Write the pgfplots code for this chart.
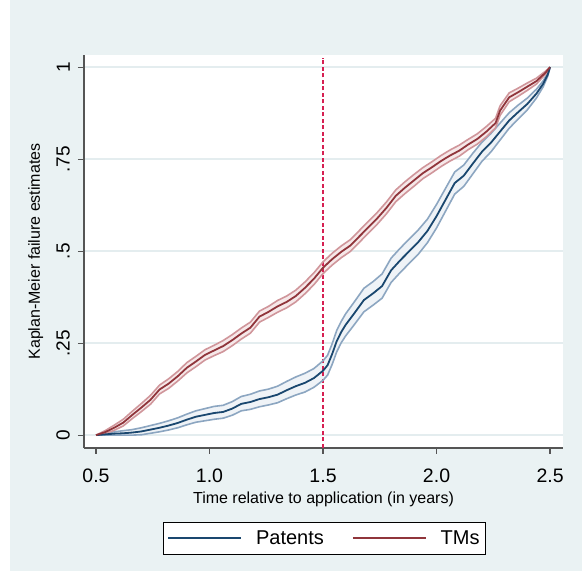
\documentclass[border=0pt]{standalone}
\usepackage{fontspec}
\setmainfont{Liberation Sans}
\usepackage{pgfplots}
\pgfplotsset{compat=1.18}
\usepackage{pgfplotstable}
\usepgfplotslibrary{fillbetween}

\definecolor{bgc}{RGB}{234,242,243}
\definecolor{gridc}{RGB}{228,237,239}
\definecolor{patc}{RGB}{26,71,111}
\definecolor{patci}{RGB}{140,166,193}
\definecolor{patfill}{RGB}{239,243,247}
\definecolor{tmc}{RGB}{144,53,59}
\definecolor{tmci}{RGB}{208,150,155}
\definecolor{tmfill}{RGB}{246,232,233}
\definecolor{vlinec}{RGB}{214,32,82}
\definecolor{axc}{RGB}{85,85,85}

\pgfplotsset{
  layers/mylayers/.define layer set={
    bgfill,axis background,axis grid,axis ticks,axis lines,axis tick labels,pre main,main,axis descriptions,axis foreground
  }{
    grid style={/pgfplots/on layer=axis grid},
    tick style={/pgfplots/on layer=axis ticks},
    axis line style={/pgfplots/on layer=axis lines},
    label style={/pgfplots/on layer=axis descriptions},
    legend style={/pgfplots/on layer=axis descriptions},
    title style={/pgfplots/on layer=axis descriptions},
    colorbar style={/pgfplots/on layer=axis descriptions},
    ticklabel style={/pgfplots/on layer=axis tick labels},
    axis background@ style={/pgfplots/on layer=axis background},
  },
}

\pgfplotstableread{
x est lo hi
0.50 0.000 0.000 0.000
0.54 0.002 0.000 0.005
0.58 0.004 0.000 0.009
0.62 0.005 0.000 0.012
0.66 0.007 0.000 0.015
0.70 0.010 0.001 0.020
0.74 0.015 0.005 0.026
0.78 0.020 0.009 0.032
0.82 0.026 0.014 0.039
0.86 0.033 0.020 0.047
0.90 0.042 0.028 0.057
0.94 0.050 0.035 0.066
0.98 0.055 0.039 0.072
1.02 0.060 0.043 0.078
1.06 0.063 0.046 0.081
1.10 0.072 0.054 0.091
1.14 0.085 0.066 0.105
1.18 0.090 0.070 0.111
1.22 0.098 0.077 0.120
1.26 0.103 0.082 0.125
1.30 0.110 0.088 0.133
1.34 0.122 0.099 0.146
1.38 0.133 0.109 0.158
1.42 0.142 0.117 0.168
1.46 0.155 0.130 0.181
1.50 0.175 0.149 0.202
1.52 0.190 0.163 0.217
1.54 0.220 0.192 0.248
1.56 0.255 0.226 0.284
1.58 0.280 0.251 0.309
1.60 0.300 0.270 0.330
1.64 0.333 0.302 0.364
1.68 0.367 0.335 0.399
1.72 0.385 0.353 0.417
1.76 0.405 0.372 0.438
1.80 0.448 0.415 0.481
1.84 0.475 0.442 0.508
1.88 0.500 0.467 0.533
1.92 0.525 0.492 0.558
1.96 0.555 0.523 0.587
2.00 0.595 0.563 0.627
2.04 0.640 0.609 0.671
2.08 0.685 0.655 0.715
2.12 0.705 0.676 0.734
2.16 0.738 0.710 0.766
2.20 0.770 0.744 0.796
2.24 0.795 0.770 0.820
2.28 0.825 0.802 0.848
2.32 0.855 0.834 0.876
2.36 0.878 0.859 0.897
2.40 0.900 0.884 0.916
2.44 0.928 0.916 0.940
2.47 0.955 0.947 0.963
2.49 0.980 0.976 0.984
2.50 1.000 1.000 1.000
}\patents

\pgfplotstableread{
x est lo hi
0.50 0.000 0.000 0.000
0.54 0.008 0.004 0.012
0.58 0.020 0.013 0.027
0.62 0.034 0.025 0.043
0.66 0.055 0.045 0.065
0.70 0.075 0.064 0.086
0.74 0.096 0.084 0.108
0.78 0.124 0.112 0.136
0.82 0.140 0.127 0.153
0.86 0.160 0.147 0.173
0.90 0.183 0.169 0.197
0.94 0.200 0.186 0.214
0.98 0.218 0.204 0.232
1.02 0.230 0.216 0.244
1.06 0.242 0.227 0.257
1.10 0.258 0.243 0.273
1.14 0.276 0.261 0.291
1.18 0.292 0.277 0.307
1.22 0.322 0.307 0.337
1.26 0.335 0.320 0.350
1.30 0.350 0.334 0.366
1.34 0.362 0.346 0.378
1.38 0.378 0.362 0.394
1.42 0.400 0.384 0.416
1.46 0.425 0.409 0.441
1.50 0.455 0.439 0.471
1.54 0.478 0.462 0.494
1.58 0.498 0.482 0.514
1.62 0.515 0.499 0.531
1.66 0.540 0.524 0.556
1.70 0.565 0.549 0.581
1.74 0.590 0.574 0.606
1.78 0.618 0.602 0.634
1.82 0.650 0.634 0.666
1.86 0.672 0.656 0.688
1.90 0.692 0.676 0.708
1.94 0.712 0.697 0.727
1.98 0.728 0.713 0.743
2.02 0.745 0.730 0.760
2.06 0.760 0.745 0.775
2.10 0.773 0.758 0.788
2.14 0.790 0.776 0.804
2.18 0.805 0.791 0.819
2.22 0.825 0.811 0.839
2.26 0.848 0.835 0.861
2.28 0.882 0.869 0.895
2.32 0.918 0.906 0.930
2.36 0.932 0.921 0.943
2.40 0.947 0.937 0.957
2.44 0.962 0.954 0.970
2.48 0.985 0.981 0.989
2.50 1.000 1.000 1.000
}\tms

\begin{document}
\begin{tikzpicture}
\path (0pt,0pt) rectangle (582pt,571pt);
\begin{axis}[
  at={(84pt,123pt)}, anchor=south west,
  width=479pt, height=393pt, scale only axis,
  set layers=mylayers, clip=false,
  xmin=0.447, xmax=2.557, ymin=-0.035, ymax=1.033,
  axis x line*=bottom, axis y line*=left,
  axis line style={-, draw=axc, line width=1.3pt},
  axis background/.style={fill=white},
  tick align=outside, major tick length=6pt,
  tick style={draw=axc, line width=1.2pt},
  xtick={0.5,1,1.5,2,2.5}, xticklabels={0.5,1.0,1.5,2.0,2.5},
  ytick={0,0.25,0.5,0.75,1}, yticklabels={0,.25,.5,.75,1},
  ymajorgrids, grid style={draw=gridc, line width=1.5pt},
  xticklabel style={font=\fontsize{19.5}{20}\selectfont, inner sep=0pt, anchor=north, yshift=-14.5pt},
  yticklabel style={font=\fontsize{19}{20}\selectfont, inner sep=0pt, xshift=-8pt, rotate=90, anchor=south},
  xlabel={Time relative to application (in years)},
  ylabel={Kaplan-Meier failure estimates},
  label style={font=\fontsize{16}{19}\selectfont},
  xlabel style={at={(axis description cs:0.5,-0.1425)}, anchor=base},
  ylabel style={at={(axis description cs:-0.0919,0.5)}, anchor=base},
  legend style={at={(0.502,-0.230)}, anchor=center,
    draw=black, line width=1.2pt, fill=white, font=\fontsize{20}{24}\selectfont,
    inner xsep=4pt, inner ysep=6.5pt, column sep=12pt,
    /tikz/every even column/.append style={column sep=26pt}},
  legend columns=2,
  legend image code/.code={\draw[#1] (0pt,0pt) -- (73pt,0pt);},
]
\begin{pgfonlayer}{bgfill}
\fill[bgc] (axis description cs:-0.1545,-0.313) rectangle (axis description cs:1.0397,1.1399);
\end{pgfonlayer}

\addplot[draw=vlinec, line width=1.8pt, dash pattern=on 4pt off 2.5pt, forget plot] coordinates {(1.5,-0.035) (1.5,1.025)};

\addplot[name path=ph, draw=none, forget plot] table[x=x,y=hi]{\patents};
\addplot[name path=pl, draw=none, forget plot] table[x=x,y=lo]{\patents};
\addplot[fill=patfill, draw=none, forget plot] fill between[of=ph and pl];
\addplot[name path=th, draw=none, forget plot] table[x=x,y=hi]{\tms};
\addplot[name path=tl, draw=none, forget plot] table[x=x,y=lo]{\tms};
\addplot[fill=tmfill, draw=none, forget plot] fill between[of=th and tl];

\addplot[draw=patci, line width=1.6pt, forget plot] table[x=x,y=hi]{\patents};
\addplot[draw=patci, line width=1.6pt, forget plot] table[x=x,y=lo]{\patents};
\addplot[draw=tmci, line width=1.6pt, forget plot] table[x=x,y=hi]{\tms};
\addplot[draw=tmci, line width=1.6pt, forget plot] table[x=x,y=lo]{\tms};

\addplot[draw=patc, line width=1.8pt] table[x=x,y=est]{\patents};
\addlegendentry{Patents}
\addplot[draw=tmc, line width=1.8pt] table[x=x,y=est]{\tms};
\addlegendentry{TMs}
\end{axis}
\end{tikzpicture}
\end{document}
